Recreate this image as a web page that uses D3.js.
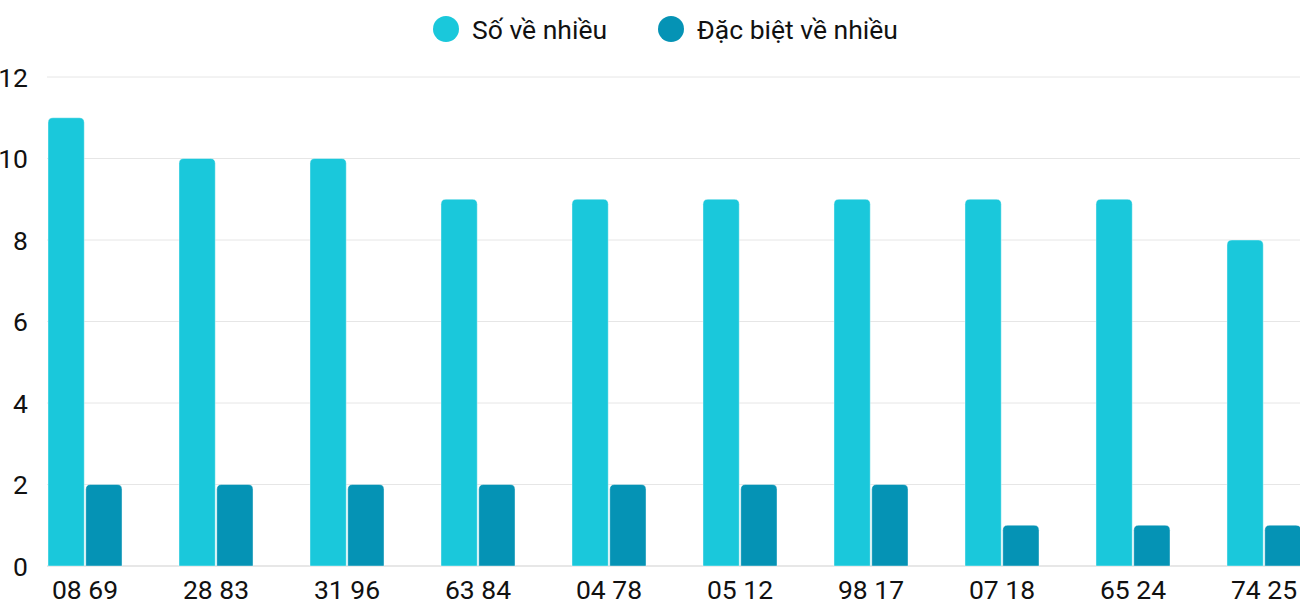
<!DOCTYPE html>
<html><head><meta charset="utf-8">
<script src="https://cdn.jsdelivr.net/npm/d3@7/dist/d3.min.js"></script>
<style>body{margin:0;background:#fff;font-family:Roboto,sans-serif}</style>
</head><body><svg id="c" width="1300" height="600"></svg>
<script>
const categories = ["08 69","28 83","31 96","63 84","04 78","05 12","98 17","07 18","65 24","74 25"];
const seriesNames = ["Số về nhiều","Đặc biệt về nhiều"];
const soVeNhieu = [11,10,10,9,9,9,9,9,9,8];
const dacBietVeNhieu = [2,2,2,2,2,2,2,1,1,1];
const yTicks = [0,2,4,6,8,10,12];
const colors = ["#1ac8db","#0593b5"];

const svg = d3.select("#c");
const x = d3.scaleBand().domain(categories).range([48,1301]).paddingInner(0.435).paddingOuter(0);
const xs = d3.scaleBand().domain([0,1]).range([0,x.bandwidth()]).paddingInner(0.04);
const y = d3.scaleLinear().domain([0,12]).range([566,77]);

// grid
svg.append("g").selectAll("line").data(yTicks).join("line")
  .attr("x1",47).attr("x2",1300).attr("y1",d=>y(d)).attr("y2",d=>y(d))
  .attr("stroke",d=>d===0?"#cfcfcf":"#e6e6e6").attr("stroke-width",1);

// y labels
svg.append("g").selectAll("text").data(yTicks).join("text")
  .attr("x",28).attr("y",d=>y(d)+9.5).attr("text-anchor","end")
  .attr("font-size",26.5).attr("fill","#111").text(d=>d);

function barPath(x0,w,yTop,yBot,r){
  r=Math.min(r,w/2,(yBot-yTop));
  return `M${x0},${yBot}V${yTop+r}Q${x0},${yTop} ${x0+r},${yTop}H${x0+w-r}Q${x0+w},${yTop} ${x0+w},${yTop+r}V${yBot}Z`;
}
const series=[soVeNhieu,dacBietVeNhieu];
series.forEach((vals,si)=>{
  svg.append("g").selectAll("path").data(categories).join("path")
    .attr("d",(c,i)=>barPath(x(c)+xs(si),xs.bandwidth(),y(vals[i]),y(0),5))
    .attr("fill",colors[si]).attr("stroke","#fff").attr("stroke-opacity",0.5).attr("stroke-width",0.8);
});

// x labels
svg.append("g").selectAll("text").data(categories).join("text")
  .attr("x",c=>x(c)+x.bandwidth()/2).attr("y",599)
  .attr("text-anchor","middle").attr("font-size",26.5).attr("fill","#111").text(c=>c);

// legend
const leg=[{x:446,name:seriesNames[0],c:colors[0]},{x:671,name:seriesNames[1],c:colors[1]}];
const lg=svg.append("g").selectAll("g").data(leg).join("g");
lg.append("circle").attr("cx",d=>d.x).attr("cy",29).attr("r",13).attr("fill",d=>d.c);
lg.append("text").attr("x",d=>d.x+26).attr("y",39).attr("font-size",26.5).attr("fill","#111").text(d=>d.name);
</script></body></html>
